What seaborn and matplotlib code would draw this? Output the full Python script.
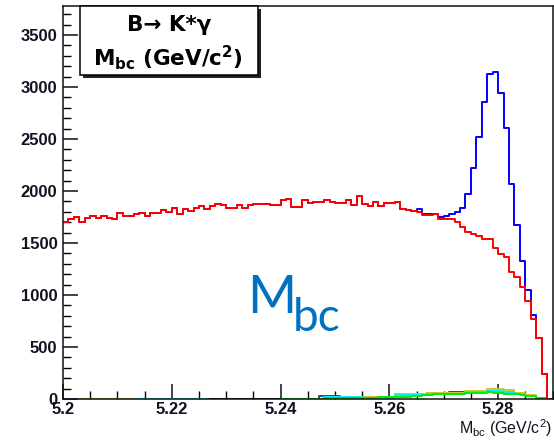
import numpy as np
import pandas as pd
import matplotlib
matplotlib.use("Agg")
import matplotlib.pyplot as plt
import seaborn as sns
from matplotlib.patches import Rectangle
from matplotlib.ticker import MultipleLocator, FixedLocator

nan = np.nan

# ---------------- data (90 bins of 1 MeV, 5.20 - 5.29 GeV) ----------------
x_min, x_max, n_bins = 5.20, 5.29, 90

red_counts = [1700, 1728, 1753, 1705, 1745, 1759, 1745, 1759, 1745, 1731,
              1788, 1763, 1763, 1776, 1788, 1759, 1788, 1788, 1817, 1801,
              1833, 1779, 1827, 1808, 1833, 1859, 1827, 1853, 1878, 1865,
              1833, 1833, 1865, 1833, 1865, 1878, 1878, 1878, 1865, 1865,
              1910, 1923, 1849, 1849, 1913, 1881, 1897, 1897, 1913, 1897,
              1881, 1881, 1913, 1865, 1955, 1875, 1859, 1897, 1859, 1881,
              1881, 1897, 1830, 1820, 1808, 1801, 1769, 1769, 1776, 1731,
              1731, 1731, 1699, 1657, 1609, 1590, 1570, 1538, 1535, 1449,
              1394, 1362, 1224, 1176, 1080, 946, 766, 583, 240, 0]

blue_tail = [1824, 1779, 1779, 1779, 1747, 1763, 1779, 1801, 1840, 1968,
             2218, 2516, 2855, 3125, 3141, 2946, 2603, 2070, 1675, 1330,
             1048, 808, 590, 240, 0]
blue_counts = red_counts[:65] + blue_tail

navy_counts = ([0] * 47 + [30, 30, 30, 30] + [15] * 10 + [45] +
               [35] * 5 + [55, 55, 50, 50, 66] + [65] * 9 +
               [45] * 4 + [28, 28, 9, 9, 0])

yellow_counts = ([nan] * 3 + [2] * 10 + [3] * 35 + [22] * 7 + [15] * 6 +
                 [45] * 6 + [58] * 7 + [75] * 4 + [100] * 3 + [88, 88] +
                 [62, 62] + [36, 36] + [14, 14] + [0])

cyan_counts = ([nan] * 13 + [0] * 14 + [3] * 21 + [18] * 7 + [14] * 6 +
               [35] * 6 + [50] * 7 + [68] * 4 + [80] * 3 + [70, 70] +
               [50, 50] + [30, 30] + [10, 10] + [0])

black_counts = [nan] * 27 + [0] * 13 + [nan] * 50

green_counts = ([nan] * 40 +
                [2, 2, 3, 3, 3, 4, 4, 4, 5, 5, 5, 6, 10, 12, 13, 13, 14, 14,
                 15, 20, 22, 22, 23, 24, 25, 26, 38, 42, 44, 45, 47, 48, 50,
                 52, 58, 60, 61, 62, 63, 62, 60, 50, 47, 45, 42, 30, 28, 12,
                 8, 0])

y_ticks = [0, 500, 1000, 1500, 2000, 2500, 3000, 3500]
x_ticks = [5.20, 5.22, 5.24, 5.26, 5.28]
x_tick_labels = ["5.2", "5.22", "5.24", "5.26", "5.28"]

# ---------------- figure ----------------
W, H = 554, 441
fig = plt.figure(figsize=(W / 100, H / 100), dpi=100)
plt.rcParams['font.family'] = ['Liberation Sans', 'DejaVu Sans']
plt.rcParams['mathtext.fontset'] = 'custom'
plt.rcParams['mathtext.rm'] = 'Liberation Sans'
plt.rcParams['mathtext.bf'] = 'Liberation Sans:bold'
plt.rcParams['mathtext.it'] = 'Liberation Sans:italic'

ax_l, ax_r, ax_t, ax_b = 63, 552.5, 6, 399
ax = fig.add_axes([ax_l / W, 1 - ax_b / H, (ax_r - ax_l) / W, (ax_b - ax_t) / H])

edges = np.linspace(x_min, x_max, n_bins + 1)
centers = 0.5 * (edges[:-1] + edges[1:])


def draw_hist(vals, color, lw=1.4):
    vals = np.asarray(vals, dtype=float)
    ok = np.where(~np.isnan(vals))[0]
    i0, i1 = ok[0], ok[-1] + 1
    df = pd.DataFrame({"mbc": centers[i0:i1], "w": vals[i0:i1]})
    sns.histplot(data=df, x="mbc", weights="w", bins=int(i1 - i0),
                 binrange=(edges[i0], edges[i1]),
                 element="step", fill=False, color=color, linewidth=lw, ax=ax)


draw_hist(navy_counts, "#3c3ca0")
draw_hist(yellow_counts, "#c8c83c")
draw_hist(cyan_counts, "#00f0f0")
draw_hist(black_counts, "#000000")
draw_hist(green_counts, "#00ee00")
draw_hist(blue_counts, "#0000ff")
draw_hist(red_counts, "#ff0000")

ax.set_xlim(x_min, x_max)
ax.set_ylim(0, 3779)
ax.set_xlabel("")
ax.set_ylabel("")

ax.yaxis.set_major_locator(FixedLocator(y_ticks))
ax.yaxis.set_minor_locator(MultipleLocator(100))
ax.xaxis.set_major_locator(FixedLocator(x_ticks))
ax.xaxis.set_minor_locator(MultipleLocator(0.005))
ax.set_xticklabels(x_tick_labels)
ax.tick_params(which='major', direction='in', length=11, width=1.1,
               labelsize=12, pad=4, colors='#111122')
ax.tick_params(which='minor', direction='in', length=5.5, width=1.0)
ax.tick_params(axis='x', pad=2.5)
for lab in ax.get_xticklabels() + ax.get_yticklabels():
    lab.set_fontweight('bold')
for sp in ax.spines.values():
    sp.set_linewidth(1.1)
    sp.set_color('#111111')

# x-axis title (bottom right)
fig.text(552 / W, 1 - 434 / H, r"M$_{\rm bc}$ (GeV/c$^{\rm 2}$)",
         ha='right', va='baseline', fontsize=11.5, color='#111122')

# title box with shadow
bx0, bx1, by0, by1 = 80, 258, 6, 75
fig.add_artist(Rectangle(((bx0 + 3) / W, 1 - (by1 + 3) / H), (bx1 - bx0) / W,
                         (by1 - by0) / H, transform=fig.transFigure,
                         facecolor='#222222', edgecolor='none', zorder=5))
fig.add_artist(Rectangle((bx0 / W, 1 - by1 / H), (bx1 - bx0) / W,
                         (by1 - by0) / H, transform=fig.transFigure,
                         facecolor='white', edgecolor='black', lw=1.1, zorder=6))
fig.text(169 / W, 1 - 31 / H, "B\u2192 K*\u03b3", ha='center', va='baseline',
         fontsize=15.5, fontweight='bold', zorder=7,
         family=['DejaVu Sans'])
fig.text(168 / W, 1 - 66 / H, r"M$_{\mathbf{bc}}$ (GeV/c$^{\mathbf{2}}$)",
         ha='center', va='baseline', fontsize=15.5, fontweight='bold',
         zorder=7, family=['DejaVu Sans'], math_fontfamily='dejavusans')

# large overlay label
fig.text(247 / W, 1 - 313 / H, "M", ha='left', va='baseline', fontsize=38,
         color='#0070c0', family=['Lato', 'DejaVu Sans'])
fig.text(293 / W, 1 - 331 / H, "bc", ha='left', va='baseline', fontsize=33,
         color='#0070c0', family=['Lato', 'DejaVu Sans'])

fig.savefig("out.png", dpi=100)
